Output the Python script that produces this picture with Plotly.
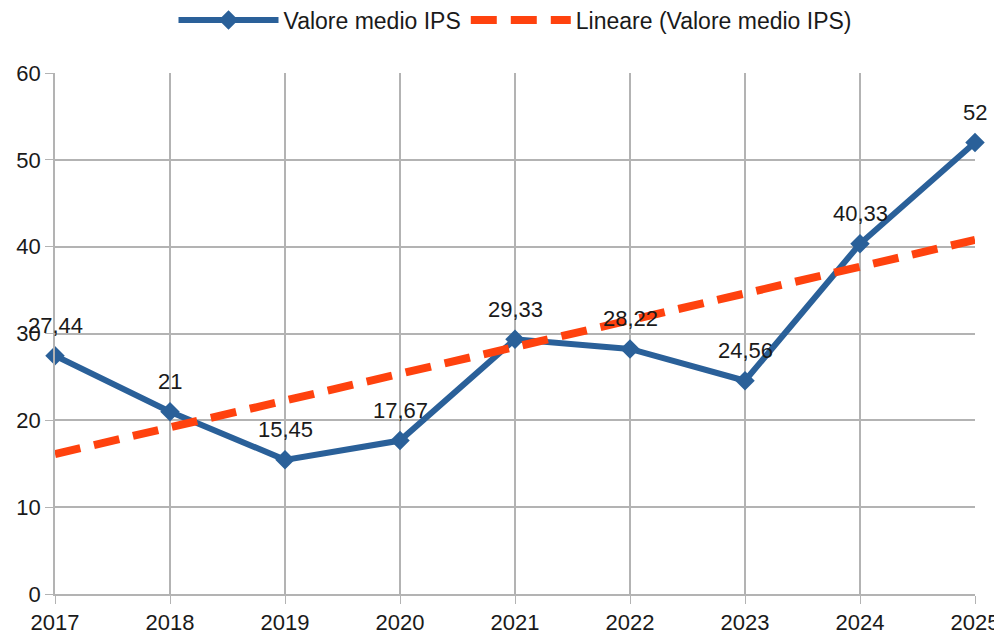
import numpy as np
import plotly.graph_objects as go

years = [2017, 2018, 2019, 2020, 2021, 2022, 2023, 2024, 2025]
values = [27.44, 21, 15.45, 17.67, 29.33, 28.22, 24.56, 40.33, 52]
series_name = "Valore medio IPS"
trend_name = "Lineare (Valore medio IPS)"

labels = [f"{v:g}".replace(".", ",") for v in values]

# linear trend line (least squares) as in the spreadsheet
idx = np.arange(len(years))
slope, intercept = np.polyfit(idx, values, 1)
trend = slope * idx + intercept

BLUE = "#2a6099"
ORANGE = "#ff420e"
FONT = "Liberation Sans, Arial, sans-serif"
TXT = "#1a1a1a"

fig = go.Figure()
fig.add_trace(go.Scatter(
    x=years, y=values, name=series_name, mode="lines+markers",
    line=dict(color=BLUE, width=6),
    marker=dict(symbol="diamond", size=15, color=BLUE),
    legendrank=1, cliponaxis=False,
))
fig.add_trace(go.Scatter(
    x=years, y=trend, name=trend_name, mode="lines",
    line=dict(color=ORANGE, width=8, dash="26px,14px"),
    legendrank=2,
))

for x, v, t in zip(years, values, labels):
    fig.add_annotation(x=x, y=v, text=t, showarrow=False, yshift=30,
                       xanchor="center", yanchor="middle",
                       font=dict(family=FONT, size=22, color=TXT))

# page body adds an ~8px offset, so the figure is sized to fit the window
fig.update_layout(
    width=994, height=632,
    paper_bgcolor="white", plot_bgcolor="white",
    margin=dict(l=47, r=27, t=65, b=46),
    font=dict(family=FONT, size=22, color=TXT),
    showlegend=True,
    legend=dict(orientation="h", x=0.5, xanchor="center", y=0.981, yref="container",
                yanchor="middle", itemwidth=100, font=dict(size=23),
                traceorder="normal", tracegroupgap=10),
)
fig.update_xaxes(
    range=[2017, 2025], tickvals=years, ticktext=[str(y) for y in years],
    showgrid=True, gridcolor="#b3b3b3", gridwidth=1.5,
    showline=True, linecolor="#b3b3b3", linewidth=1.5,
    ticks="outside", ticklen=8, tickcolor="#b3b3b3",
    zeroline=False, automargin=False, tickfont=dict(size=22),
)
fig.update_yaxes(
    range=[0, 60], dtick=10,
    showgrid=True, gridcolor="#b3b3b3", gridwidth=1.5,
    showline=True, linecolor="#b3b3b3", linewidth=1.5,
    ticks="outside", ticklen=8, tickcolor="#b3b3b3",
    zeroline=False, automargin=False, tickfont=dict(size=22),
)
fig.write_html("out.html")
